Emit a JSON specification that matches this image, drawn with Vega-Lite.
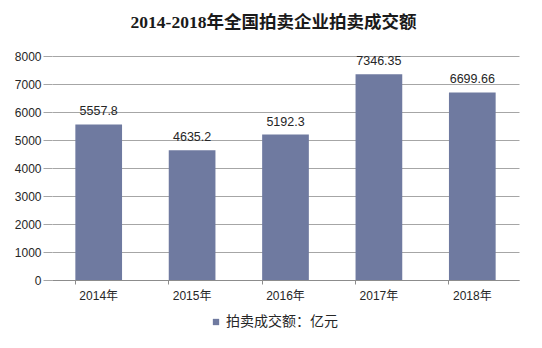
{
  "$schema": "https://vega.github.io/schema/vega-lite/v6.json",
  "width": 467,
  "height": 224,
  "autosize": {"type": "none"},
  "padding": {"left": 52, "top": 56, "right": 23, "bottom": 68},
  "background": "white",
  "config": {
    "view": {"stroke": null},
    "font": "Liberation Sans, Noto Sans CJK SC",
    "text": {"font": "Liberation Sans, Noto Sans CJK SC"}
  },
  "title": {
    "text": "2014-2018年全国拍卖企业拍卖成交额",
    "font": "Liberation Serif, Noto Sans CJK SC",
    "fontSize": 17.5,
    "fontWeight": "bold",
    "color": "#1a1a1a",
    "anchor": "middle",
    "frame": "group",
    "dx": -12,
    "offset": 19
  },
  "data": {
    "values": [
      {"year": "2014年", "value": 5557.8, "label": "5557.8", "series": "拍卖成交额：亿元"},
      {"year": "2015年", "value": 4635.2, "label": "4635.2", "series": "拍卖成交额：亿元"},
      {"year": "2016年", "value": 5192.3, "label": "5192.3", "series": "拍卖成交额：亿元"},
      {"year": "2017年", "value": 7346.35, "label": "7346.35", "series": "拍卖成交额：亿元"},
      {"year": "2018年", "value": 6699.66, "label": "6699.66", "series": "拍卖成交额：亿元"}
    ]
  },
  "encoding": {
    "x": {
      "field": "year",
      "type": "ordinal",
      "scale": {"paddingInner": 0.5, "paddingOuter": 0.25},
      "axis": {
        "title": null,
        "labelAngle": 0,
        "labelFontSize": 12,
        "labelColor": "#262626",
        "domainColor": "#8c8c8c",
        "tickColor": "#8c8c8c",
        "tickSize": 4,
        "bandPosition": 0,
        "labelPadding": 6
      }
    },
    "y": {
      "field": "value",
      "type": "quantitative",
      "scale": {"domain": [0, 8000]},
      "axis": {
        "title": null,
        "values": [0, 1000, 2000, 3000, 4000, 5000, 6000, 7000, 8000],
        "format": "d",
        "labelOverlap": false,
        "labelFontSize": 12,
        "labelColor": "#262626",
        "domain": false,
        "gridColor": "#a6a6a6",
        "tickColor": "#a6a6a6",
        "tickSize": 9,
        "labelPadding": 2
      }
    }
  },
  "layer": [
    {
      "mark": {"type": "bar"},
      "encoding": {
        "color": {
          "field": "series",
          "type": "nominal",
          "scale": {"range": ["#6f7aa0"]},
          "legend": {
            "title": null,
            "orient": "none",
            "legendX": 157,
            "legendY": 259,
            "symbolType": "square",
            "symbolSize": 40,
            "labelFontSize": 14,
            "labelColor": "#262626",
            "labelOffset": 3
          }
        }
      }
    },
    {
      "mark": {"type": "text", "baseline": "bottom", "dy": -6, "fontSize": 12.5, "color": "#262626"},
      "encoding": {"text": {"field": "label"}}
    }
  ]
}
